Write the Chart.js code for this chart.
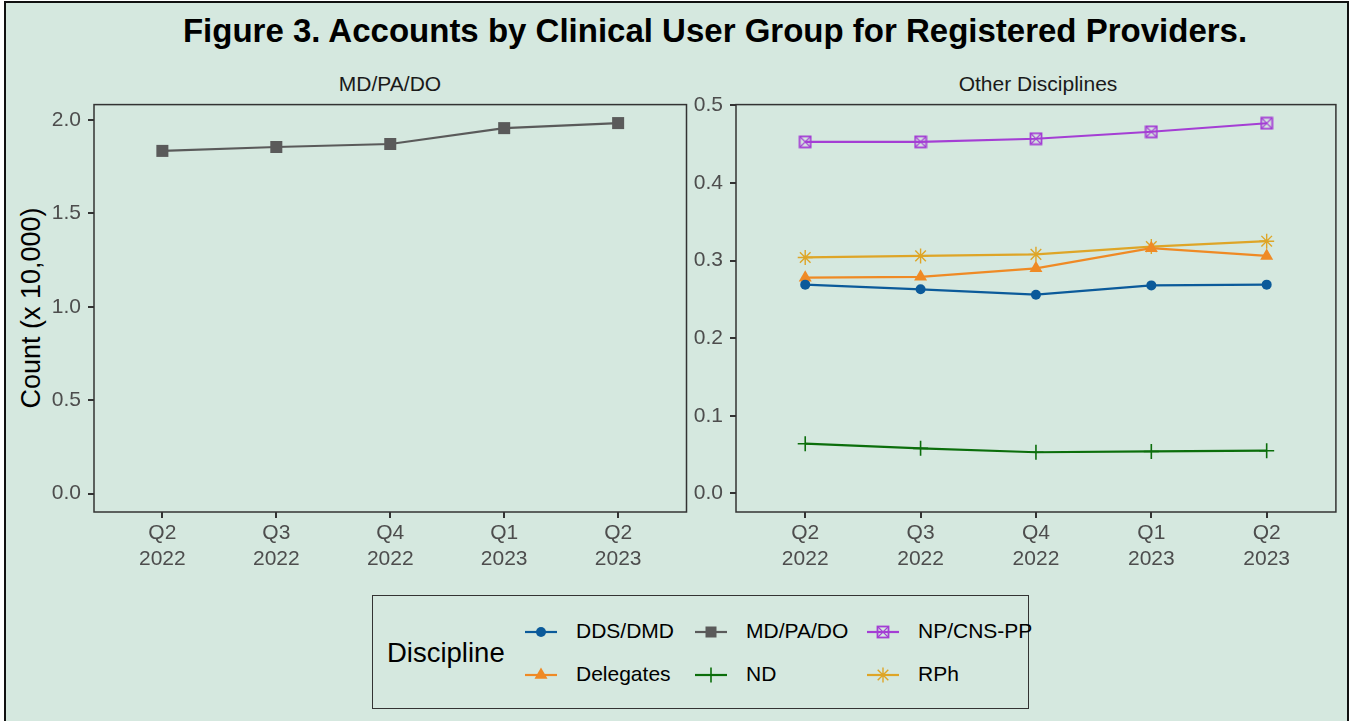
<!DOCTYPE html>
<html lang="en">
<head>
    <meta charset="UTF-8">
    <title>Figure 3. Accounts by Clinical User Group</title>
    <script src="https://cdn.jsdelivr.net/npm/chart.js"></script>
    <style>
        body { margin: 0; background: #fff; font-family: "Liberation Sans", Arial, sans-serif; }
        #fig {
            position: absolute; left: 4px; top: 1px; width: 1345px; height: 722px;
            background: #d5e8df; border: 2px solid #111; border-bottom: none; box-sizing: border-box;
        }
        .abs { position: absolute; white-space: nowrap; }
        #title { left: 715px; top: 12px; transform: translateX(-50%); font-size: 33px; font-weight: bold; color: #000; }
        .strip { top: 72px; font-size: 21px; color: #1a1a1a; transform: translateX(-50%); }
        #ytitle { left: 31px; top: 308px; font-size: 27px; color: #000; transform: translate(-50%, -50%) rotate(-90deg); }
        .panel { position: absolute; top: 85px; }
        #legend {
            position: absolute; left: 372px; top: 595px; width: 657px; height: 114px;
            border: 1px solid #333; box-sizing: border-box;
        }
        #legend .ttl { left: 14px; top: 41px; font-size: 27.5px; color: #000; }
        .key { position: absolute; }
        .lbl { font-size: 21px; color: #000; }
    </style>
</head>
<body>
<div id="fig"></div>
<div class="abs" id="title">Figure 3. Accounts by Clinical User Group for Registered Providers.</div>
<div class="abs strip" style="left:390px">MD/PA/DO</div>
<div class="abs strip" style="left:1038px">Other Disciplines</div>
<div class="abs" id="ytitle">Count (x 10,000)</div>
<canvas id="leftChart" class="panel" style="left:40px" width="655" height="491"></canvas>
<canvas id="rightChart" class="panel" style="left:690px" width="655" height="491"></canvas>
<div id="legend"><div class="abs ttl">Discipline</div></div>

<script>
    // quarters on the x axis
    const quarters = ['Q2', 'Q3', 'Q4', 'Q1', 'Q2'];
    const years = ['2022', '2022', '2022', '2023', '2023'];

    // counts (x 10,000)
    const mdPaDo    = [1.835, 1.856, 1.872, 1.957, 1.984];
    const npCnsPp   = [0.453, 0.453, 0.457, 0.466, 0.477];
    const rph       = [0.304, 0.306, 0.308, 0.318, 0.325];
    const delegates = [0.278, 0.279, 0.290, 0.316, 0.306];
    const ddsDmd    = [0.269, 0.263, 0.256, 0.268, 0.269];
    const nd        = [0.064, 0.058, 0.053, 0.054, 0.055];

    const leftTicks = [0, 0.5, 1.0, 1.5, 2.0];
    const rightTicks = [0, 0.1, 0.2, 0.3, 0.4, 0.5];

    const colors = {
        dds: '#0b5a9a', delegates: '#ef8a25', md: '#5a5a5a',
        nd: '#0b6e0b', np: '#a43ed4', rph: '#dea527'
    };

    // boxed-x marker for NP/CNS-PP (ggplot shape 7)
    function boxX(color) {
        const c = document.createElement('canvas');
        c.width = 14; c.height = 14;
        const g = c.getContext('2d');
        g.strokeStyle = color; g.lineWidth = 1.8;
        g.strokeRect(1.5, 1.5, 11, 11);
        g.lineWidth = 1.1;
        g.beginPath();
        g.moveTo(2, 2); g.lineTo(12, 12);
        g.moveTo(12, 2); g.lineTo(2, 12);
        g.stroke();
        return c;
    }
    const npMarker = boxX(colors.np);

    const toXY = arr => arr.map((v, i) => ({ x: i + 1, y: v }));

    function series(label, data, color, style, radius, bw) {
        return {
            label: label, data: toXY(data),
            borderColor: color, backgroundColor: color, borderWidth: 2.2,
            pointStyle: style, pointRadius: radius, pointHoverRadius: radius,
            pointBackgroundColor: color, pointBorderColor: color, pointBorderWidth: bw,
            tension: 0, clip: false
        };
    }

    // panel border drawn on top, like ggplot's panel.border
    const panelBorder = {
        id: 'panelBorder',
        afterDatasetsDraw(chart) {
            const a = chart.chartArea, ctx = chart.ctx;
            ctx.save();
            ctx.strokeStyle = '#333';
            ctx.lineWidth = 1.5;
            ctx.strokeRect(a.left, a.top, a.right - a.left, a.bottom - a.top);
            ctx.restore();
        }
    };

    function options(yMin, yMax, yTickVals, yWidth) {
        const tickFont = { family: '"Liberation Sans", Arial, sans-serif', size: 21 };
        return {
            responsive: false,
            animation: false,
            layout: { padding: { top: 8, right: 4, left: 0, bottom: 0 } },
            plugins: { legend: { display: false }, tooltip: { enabled: false } },
            scales: {
                x: {
                    type: 'linear', min: 0.4, max: 5.6,
                    afterBuildTicks: s => { s.ticks = quarters.map((q, i) => ({ value: i + 1 })); },
                    afterFit: s => { s.height = 64; },
                    ticks: {
                        color: '#4d4d4d', font: { ...tickFont, lineHeight: 1.2 }, padding: 3,
                        maxRotation: 0, autoSkip: false,
                        callback: v => [quarters[v - 1], years[v - 1]]
                    },
                    grid: { display: true, drawOnChartArea: false, drawTicks: true, tickLength: 6, color: '#333', lineWidth: 2 },
                    border: { display: false }
                },
                y: {
                    min: yMin, max: yMax,
                    afterBuildTicks: s => { s.ticks = yTickVals.map(v => ({ value: v })); },
                    afterFit: s => { s.width = yWidth; },
                    ticks: { color: '#4d4d4d', font: tickFont, padding: 7, callback: v => v.toFixed(1) },
                    grid: { display: true, drawOnChartArea: false, drawTicks: true, tickLength: 6, color: '#333', lineWidth: 2 },
                    border: { display: false }
                }
            }
        };
    }

    new Chart(document.getElementById('leftChart'), {
        type: 'line',
        data: { datasets: [series('MD/PA/DO', mdPaDo, colors.md, 'rect', 8.5, 0)] },
        options: options(-0.099, 2.083, leftTicks, 54),
        plugins: [panelBorder]
    });

    new Chart(document.getElementById('rightChart'), {
        type: 'line',
        data: {
            datasets: [
                series('ND', nd, colors.nd, 'cross', 7.5, 1.6),
                series('DDS/DMD', ddsDmd, colors.dds, 'circle', 5, 0),
                series('Delegates', delegates, colors.delegates, 'triangle', 7.5, 0),
                series('RPh', rph, colors.rph, 'star', 7.5, 1.4),
                series('NP/CNS-PP', npCnsPp, colors.np, npMarker, 7, 0)
            ]
        },
        options: options(-0.024, 0.501, rightTicks, 46),
        plugins: [panelBorder]
    });

    // legend keys: line with marker in the middle
    const legendItems = [
        { label: 'DDS/DMD', color: colors.dds, style: 'circle', col: 0, row: 0 },
        { label: 'Delegates', color: colors.delegates, style: 'triangle', col: 0, row: 1 },
        { label: 'MD/PA/DO', color: colors.md, style: 'rect', col: 1, row: 0 },
        { label: 'ND', color: colors.nd, style: 'cross', col: 1, row: 1 },
        { label: 'NP/CNS-PP', color: colors.np, style: 'box', col: 2, row: 0 },
        { label: 'RPh', color: colors.rph, style: 'star', col: 2, row: 1 }
    ];
    const colKeyX = [150, 320, 492];
    const rowY = [36, 79];
    const legend = document.getElementById('legend');

    function drawKey(g, style, color) {
        const cx = 18, cy = 10;
        g.strokeStyle = color; g.fillStyle = color; g.lineWidth = 2.2;
        g.beginPath(); g.moveTo(2, cy); g.lineTo(34, cy); g.stroke();
        g.beginPath();
        if (style === 'circle') { g.arc(cx, cy, 5, 0, Math.PI * 2); g.fill(); }
        else if (style === 'rect') { g.fillRect(cx - 5.5, cy - 5.5, 11, 11); }
        else if (style === 'triangle') {
            g.moveTo(cx, cy - 7.5); g.lineTo(cx + 6.5, cy + 3.8); g.lineTo(cx - 6.5, cy + 3.8); g.closePath(); g.fill();
        } else if (style === 'cross') {
            g.lineWidth = 1.6; g.moveTo(cx, cy - 7.5); g.lineTo(cx, cy + 7.5); g.stroke();
        } else if (style === 'star') {
            g.lineWidth = 1.4;
            for (let k = 0; k < 4; k++) {
                const a = k * Math.PI / 4;
                g.moveTo(cx - 7.5 * Math.cos(a), cy - 7.5 * Math.sin(a));
                g.lineTo(cx + 7.5 * Math.cos(a), cy + 7.5 * Math.sin(a));
            }
            g.stroke();
        } else if (style === 'box') { g.drawImage(npMarker, cx - 7, cy - 7); }
    }

    legendItems.forEach(it => {
        const c = document.createElement('canvas');
        c.width = 36; c.height = 20; c.className = 'key';
        c.style.left = colKeyX[it.col] + 'px';
        c.style.top = (rowY[it.row] - 10) + 'px';
        drawKey(c.getContext('2d'), it.style, it.color);
        legend.appendChild(c);
        const t = document.createElement('div');
        t.className = 'abs lbl';
        t.textContent = it.label;
        t.style.left = (colKeyX[it.col] + 53) + 'px';
        t.style.top = (rowY[it.row] - 13) + 'px';
        legend.appendChild(t);
    });
</script>
</body>
</html>
